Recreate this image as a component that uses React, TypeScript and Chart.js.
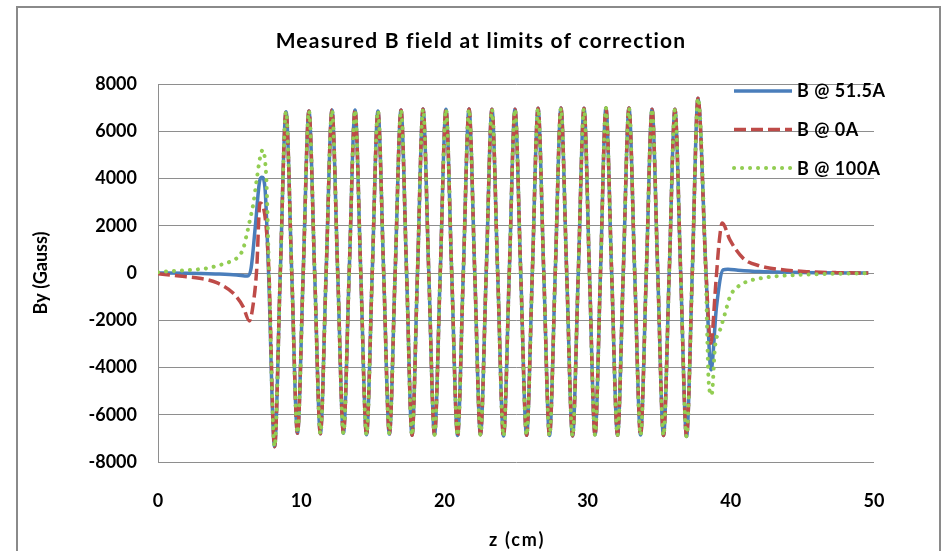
import React, { useEffect, useRef } from "react";
import { Chart, registerables } from "chart.js";

Chart.register(...registerables);

const FONT = "Lato, 'Open Sans', sans-serif";

const TITLE = "Measured B field at limits of correction";
const X_TITLE = "z (cm)";
const Y_TITLE = "By (Gauss)";
const SERIES_NAMES = ["B @ 51.5A", "B @ 0A", "B @ 100A"];
const X_TICKS = [0, 10, 20, 30, 40, 50];
const Y_TICKS = [-8000, -6000, -4000, -2000, 0, 2000, 4000, 6000, 8000];

// Shared undulator core (all three currents overlap here)
const coreZ = [
  8.14, 8.54, 8.94, 9.34, 9.74, 10.14, 10.54, 10.94, 11.34, 11.74, 12.15, 12.55, 12.95, 13.35,
  13.76, 14.16, 14.56, 14.96, 15.36, 15.76, 16.16, 16.56, 16.97, 17.36, 17.74, 18.12, 18.51,
  18.91, 19.31, 19.71, 20.11, 20.51, 20.92, 21.32, 21.72, 22.12, 22.52, 22.92, 23.32, 23.72,
  24.13, 24.53, 24.93, 25.33, 25.74, 26.14, 26.54, 26.94, 27.34, 27.74, 28.14, 28.54, 28.95,
  29.35, 29.75, 30.13, 30.52, 30.9, 31.28, 31.68, 32.09, 32.49, 32.89, 33.29, 33.7, 34.1,
  34.5, 34.9, 35.3, 35.7, 36.1, 36.5, 36.91, 37.31, 37.71,
];
const coreB = [
  -7350, 0, 6830, 0, -6780, 0, 6860, 0, -6800, 0, 6900, 0, -6780, 0,
  6900, 0, -6850, 0, 6860, 0, -6820, 0, 6900, 0, -6870, 0, 6940,
  0, -6840, 0, 6930, 0, -6880, 0, 6940, 0, -6850, 0, 6930, 0,
  -6900, 0, 6930, 0, -6870, 0, 6970, 0, -6880, 0, 6980, 0, -6900,
  0, 6970, 0, -6850, 0, 6980, 0, -6870, 0, 6980, 0, -6860, 0,
  6930, 0, -6880, 0, 6930, 0, -6920, 0, 7400,
];

// B @ 51.5A
const blueInZ = [0, 2, 4, 5.5, 6.25, 6.5, 6.8, 7.1, 7.26, 7.47, 7.72];
const blueInB = [0, -10, -40, -80, -130, 200, 2000, 3900, 4050, 3600, 0];
const blueOutZ = [38.27, 38.62, 39.0, 39.46, 39.8, 40.5, 42, 44, 46, 49.6];
const blueOutB = [0, -4100, -1440, 130, 160, 120, 60, 30, 15, 0];

// B @ 0A
const redInZ = [0, 1.5, 2.9, 4.1, 5.24, 5.94, 6.38, 6.66, 6.89, 7.12, 7.35, 7.59, 7.75];
const redInB = [-30, -130, -220, -410, -850, -1420, -2030, -1270, 130, 2960, 2800, 1690, 0];
const redOutZ = [38.27, 38.6, 38.97, 39.18, 39.4, 39.94, 40.87, 42.04, 43.4, 45.3, 47.4, 49.6];
const redOutB = [0, -2970, -300, 1270, 2120, 1400, 620, 300, 155, 57, 15, 0];

// B @ 100A
const greenInZ = [0, 1.07, 2.23, 3.4, 4.33, 5.03, 5.61, 5.96, 6.19, 6.42, 6.66, 6.89, 7.12, 7.31, 7.47, 7.59, 7.75];
const greenInB = [30, 85, 127, 200, 340, 480, 690, 1045, 1610, 2245, 2950, 3940, 4860, 5210, 4790, 3660, 0];
const greenOutZ = [38.25, 38.45, 38.66, 38.9, 39.25, 39.6, 39.94, 40.5, 41.1, 42.04, 43.4, 45.7, 49.6];
const greenOutB = [0, -4530, -5170, -3120, -2410, -1710, -1000, -580, -370, -225, -127, -57, -10];

const COLORS = ["#4A7EBB", "#BE4B48", "#92CD52"];

function toPoints(zs: number[], bs: number[]) {
  return zs.map((z, i) => ({ x: z, y: bs[i] }));
}

const STYLES = [
  { dash: [] as number[], width: 3.5, cap: "butt" as CanvasLineCap },
  { dash: [12, 5], width: 3.5, cap: "butt" as CanvasLineCap },
  { dash: [0.1, 7.9], width: 4, cap: "round" as CanvasLineCap },
];

const decorPlugin = {
  id: "decor",
  afterDraw(chart: any) {
    const ctx: any = chart.ctx;
    const area = chart.chartArea;
    ctx.save();
    ctx.fillStyle = "#000";
    ctx.textBaseline = "alphabetic";
    ctx.textAlign = "center";

    ctx.font = `bold 21px ${FONT}`;
    ctx.letterSpacing = "1.2px";
    ctx.fillText(TITLE, 481, 48);

    ctx.font = `bold 18px ${FONT}`;
    ctx.letterSpacing = "1.8px";
    ctx.textBaseline = "middle";
    ctx.fillText(X_TITLE, (area.left + area.right) / 2 + 1, 540);

    const lineY = [91, 129.5, 168];
    const textY = [97, 136, 175];
    ctx.textBaseline = "alphabetic";
    ctx.letterSpacing = "0.5px";
    SERIES_NAMES.forEach((name, i) => {
      const s = STYLES[i];
      ctx.beginPath();
      ctx.strokeStyle = COLORS[i];
      ctx.lineWidth = s.width;
      ctx.lineCap = s.cap;
      ctx.setLineDash(s.dash);
      ctx.moveTo(734, lineY[i]);
      ctx.lineTo(792, lineY[i]);
      ctx.stroke();
      ctx.setLineDash([]);
      ctx.textAlign = "left";
      ctx.fillText(name, 797, textY[i]);
    });
    ctx.letterSpacing = "0px";
    ctx.restore();
  },
};

export default function App() {
  const ref = useRef<HTMLCanvasElement | null>(null);

  useEffect(() => {
    if (!ref.current) return;
    const tickFont = { family: FONT, size: 18, weight: "bold" as const };
    const chart = new Chart(ref.current, {
      type: "line",
      data: {
        datasets: [
          {
            label: SERIES_NAMES[0],
            data: toPoints([...blueInZ, ...coreZ, ...blueOutZ], [...blueInB, ...coreB, ...blueOutB]),
            borderColor: COLORS[0],
            borderWidth: STYLES[0].width,
            borderDash: STYLES[0].dash,
            borderCapStyle: STYLES[0].cap,
            order: 3,
          },
          {
            label: SERIES_NAMES[1],
            data: toPoints([...redInZ, ...coreZ, ...redOutZ], [...redInB, ...coreB, ...redOutB]),
            borderColor: COLORS[1],
            borderWidth: STYLES[1].width,
            borderDash: STYLES[1].dash,
            borderCapStyle: STYLES[1].cap,
            order: 2,
          },
          {
            label: SERIES_NAMES[2],
            data: toPoints([...greenInZ, ...coreZ, ...greenOutZ], [...greenInB, ...coreB, ...greenOutB]),
            borderColor: COLORS[2],
            borderWidth: STYLES[2].width,
            borderDash: STYLES[2].dash,
            borderCapStyle: STYLES[2].cap,
            order: 1,
          },
        ],
      },
      options: {
        responsive: false,
        animation: false,
        layout: { padding: { top: 84, right: 69, bottom: 0, left: 0 } },
        elements: {
          point: { radius: 0 },
          line: { cubicInterpolationMode: "monotone", fill: false },
        },
        plugins: {
          legend: { display: false },
          title: { display: false },
          tooltip: { enabled: false },
        },
        scales: {
          x: {
            type: "linear",
            min: 0,
            max: 50,
            afterBuildTicks: (s: any) => {
              s.ticks = X_TICKS.map((v) => ({ value: v }));
            },
            afterFit: (s: any) => {
              s.height = 89;
            },
            grid: { display: false, drawTicks: false },
            border: { display: false },
            ticks: {
              padding: 28,
              color: "#000",
              font: tickFont,
              maxRotation: 0,
              callback: (v: any) => String(v),
            },
            title: { display: false },
          },
          y: {
            type: "linear",
            min: -8000,
            max: 8000,
            afterBuildTicks: (s: any) => {
              s.ticks = Y_TICKS.map((v) => ({ value: v }));
            },
            afterFit: (s: any) => {
              s.width = 158;
            },
            grid: { color: "#8e8e8e", lineWidth: 1, drawTicks: false },
            border: { display: true, color: "#8e8e8e", width: 1 },
            ticks: {
              padding: 21,
              color: "#000",
              font: tickFont,
              callback: (v: any) => String(v),
            },
            title: {
              display: true,
              text: Y_TITLE,
              color: "#000",
              font: tickFont,
              padding: { top: 30, bottom: 0 },
            },
          },
        },
      },
      plugins: [decorPlugin],
    });
    return () => chart.destroy();
  }, []);

  return (
    <div style={{ position: "absolute", left: 0, top: 0, width: 943, height: 551, overflow: "hidden", background: "#fff" }}>
      <div
        style={{
          position: "absolute",
          left: 16,
          top: 6,
          width: 925,
          height: 600,
          boxSizing: "border-box",
          border: "2px solid #8a8a8a",
        }}
      />
      <canvas ref={ref} width={943} height={551} style={{ position: "absolute", left: 0, top: 0, width: 943, height: 551 }} />
    </div>
  );
}
